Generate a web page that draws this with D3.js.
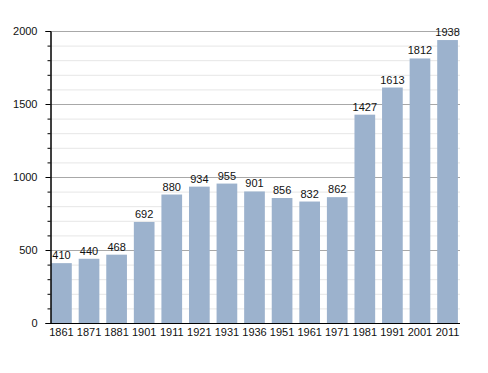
<!DOCTYPE html>
<html>
<head>
<meta charset="utf-8">
<script src="https://cdn.jsdelivr.net/npm/d3@7"></script>
<style>
  body { margin: 0; background: #fff; }
  text { font-family: "Liberation Sans", Arial, sans-serif; }
</style>
</head>
<body>
<svg width="488" height="373"></svg>
<script>
var years = ["1861", "1871", "1881", "1901", "1911", "1921", "1931", "1936",
             "1951", "1961", "1971", "1981", "1991", "2001", "2011"];
var population = [410, 440, 468, 692, 880, 934, 955, 901, 856, 832, 862, 1427, 1613, 1812, 1938];
var yTicks = [0, 500, 1000, 1500, 2000];

var svg = d3.select("svg"),
    plotLeft = 50, plotRight = 459, plotTop = 31, plotBottom = 323;

var x = d3.scaleBand()
    .domain(years)
    .range([plotLeft, plotRight])
    .paddingInner(0.25)
    .paddingOuter(0.04);

var y = d3.scaleLinear()
    .domain([0, 2000])
    .range([plotBottom, plotTop]);

// minor grid every 100
var minor = d3.range(100, 2001, 100).filter(function(d) { return d % 500; });

svg.append("g")
  .selectAll("line")
  .data(minor)
  .enter().append("line")
    .attr("x1", plotLeft).attr("x2", plotRight + 1)
    .attr("y1", function(d) { return y(d) + 0.5; })
    .attr("y2", function(d) { return y(d) + 0.5; })
    .attr("stroke", "#e6e6e6");

svg.append("g")
  .selectAll("line")
  .data(yTicks.slice(1))
  .enter().append("line")
    .attr("x1", plotLeft).attr("x2", plotRight + 1)
    .attr("y1", function(d) { return y(d) + 0.5; })
    .attr("y2", function(d) { return y(d) + 0.5; })
    .attr("stroke", "#a8a8a8");

svg.append("g")
  .selectAll("rect")
  .data(population)
  .enter().append("rect")
    .attr("x", function(d, i) { return x(years[i]); })
    .attr("y", function(d) { return y(d); })
    .attr("width", x.bandwidth())
    .attr("height", function(d) { return plotBottom - y(d); })
    .attr("fill", "#9cb2cd");

svg.append("g")
  .selectAll("text")
  .data(population)
  .enter().append("text")
    .attr("x", function(d, i) { return x(years[i]) + x.bandwidth() / 2; })
    .attr("y", function(d) { return y(d) - 4; })
    .attr("text-anchor", "middle")
    .attr("font-size", 11)
    .attr("fill", "#111")
    .text(function(d) { return d; });

// y axis with minor ticks
var yAxis = svg.append("g")
    .attr("transform", "translate(" + (plotLeft + 0.5) + ",0)");

yAxis.append("g").call(d3.axisLeft(y).tickValues(minor).tickSize(3).tickFormat(""));
yAxis.append("g").call(d3.axisLeft(y).tickValues(yTicks).tickSize(5).tickPadding(8).tickFormat(d3.format("d")));
yAxis.selectAll("text").attr("font-size", 11).attr("fill", "#111")
    .style("font-family", "Liberation Sans, Arial, sans-serif");
yAxis.selectAll("path").attr("stroke", "#000");

var xAxis = svg.append("g")
    .attr("transform", "translate(0," + (plotBottom + 0.5) + ")")
    .call(d3.axisBottom(x).tickSize(0).tickPadding(5));
xAxis.select("path").attr("d", "M" + (plotLeft - 2) + ",0H" + (plotRight + 1)).attr("stroke", "#000");
xAxis.selectAll("text").attr("font-size", 11).attr("fill", "#111")
    .style("font-family", "Liberation Sans, Arial, sans-serif");
</script>
</body>
</html>
